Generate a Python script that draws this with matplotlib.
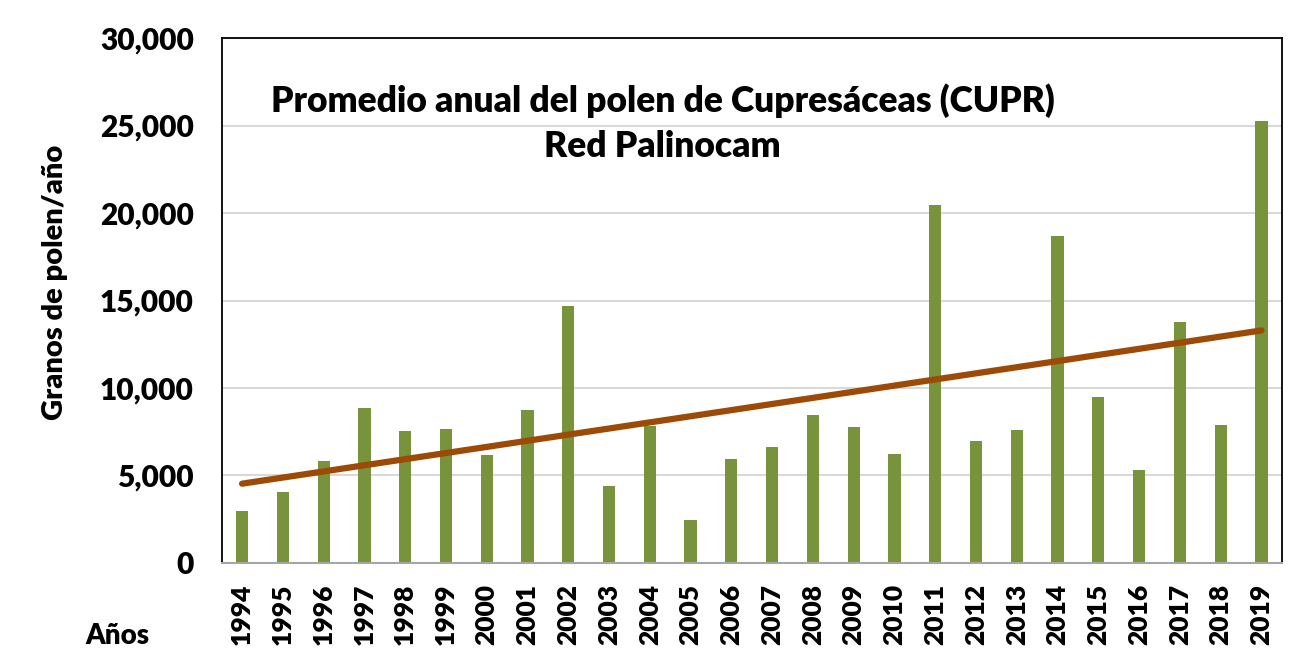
import numpy as np
import matplotlib
matplotlib.use("Agg")
import matplotlib.pyplot as plt
from matplotlib.ticker import FuncFormatter

years = list(range(1994, 2020))
values = [2970, 4060, 5810, 8860, 7560, 7680, 6170, 8740, 14670, 4420,
          7850, 2460, 5920, 6650, 8480, 7750, 6210, 20460, 6950, 7600,
          18690, 9510, 5330, 13750, 7870, 25260]
title_lines = ["Promedio anual del polen de Cupresáceas (CUPR)", "Red Palinocam"]
ylabel = "Granos de polen/año"
xlabel = "Años"

plt.rcParams['font.family'] = ['Lato', 'DejaVu Sans']
fig = plt.figure(figsize=(13.04, 6.51), dpi=100)
ax = fig.add_axes([0.170, 0.1352, 0.813, 0.8064])

x = np.arange(len(years))
ax.bar(x, values, width=0.3, color='#77933C', zorder=2)
coef = np.polyfit(x, values, 1)
ax.plot(x, np.polyval(coef, x), color='#9C4A06', lw=4.5, solid_capstyle='round', zorder=3)

ax.set_xlim(-0.5, len(years) - 0.5)
ax.set_ylim(0, 30000)
ax.set_yticks(range(0, 30001, 5000))
ax.yaxis.set_major_formatter(FuncFormatter(lambda v, p: f"{int(v):,}"))
ax.set_xticks(x)
ax.set_xticklabels([str(y) for y in years], rotation=90, fontsize=19, fontweight='heavy')
for lab in ax.get_yticklabels():
    lab.set_fontsize(21.5)
    lab.set_fontweight('heavy')
ax.tick_params(axis='y', length=0, pad=20)
ax.tick_params(axis='x', length=0, pad=15)
ax.grid(axis='y', color='#d9d9d9', lw=1.5, zorder=0)
ax.set_axisbelow(True)
for s in ['left', 'top', 'right']:
    ax.spines[s].set_color('black')
    ax.spines[s].set_linewidth(1.3)
ax.spines['bottom'].set_color('#a6a6a6')
ax.spines['bottom'].set_linewidth(1.5)

fig.text(0.042, 0.567, ylabel, rotation=90, fontsize=21, fontweight='heavy', ha='center', va='center')
fig.text(0.090, 0.023, xlabel, fontsize=20, fontweight='heavy', ha='center', va='center')
fig.text(0.508, 0.846, title_lines[0], fontsize=25.5, fontweight='heavy', ha='center', va='center')
fig.text(0.508, 0.775, title_lines[1], fontsize=25.5, fontweight='heavy', ha='center', va='center')

fig.savefig('out.png', dpi=100)
